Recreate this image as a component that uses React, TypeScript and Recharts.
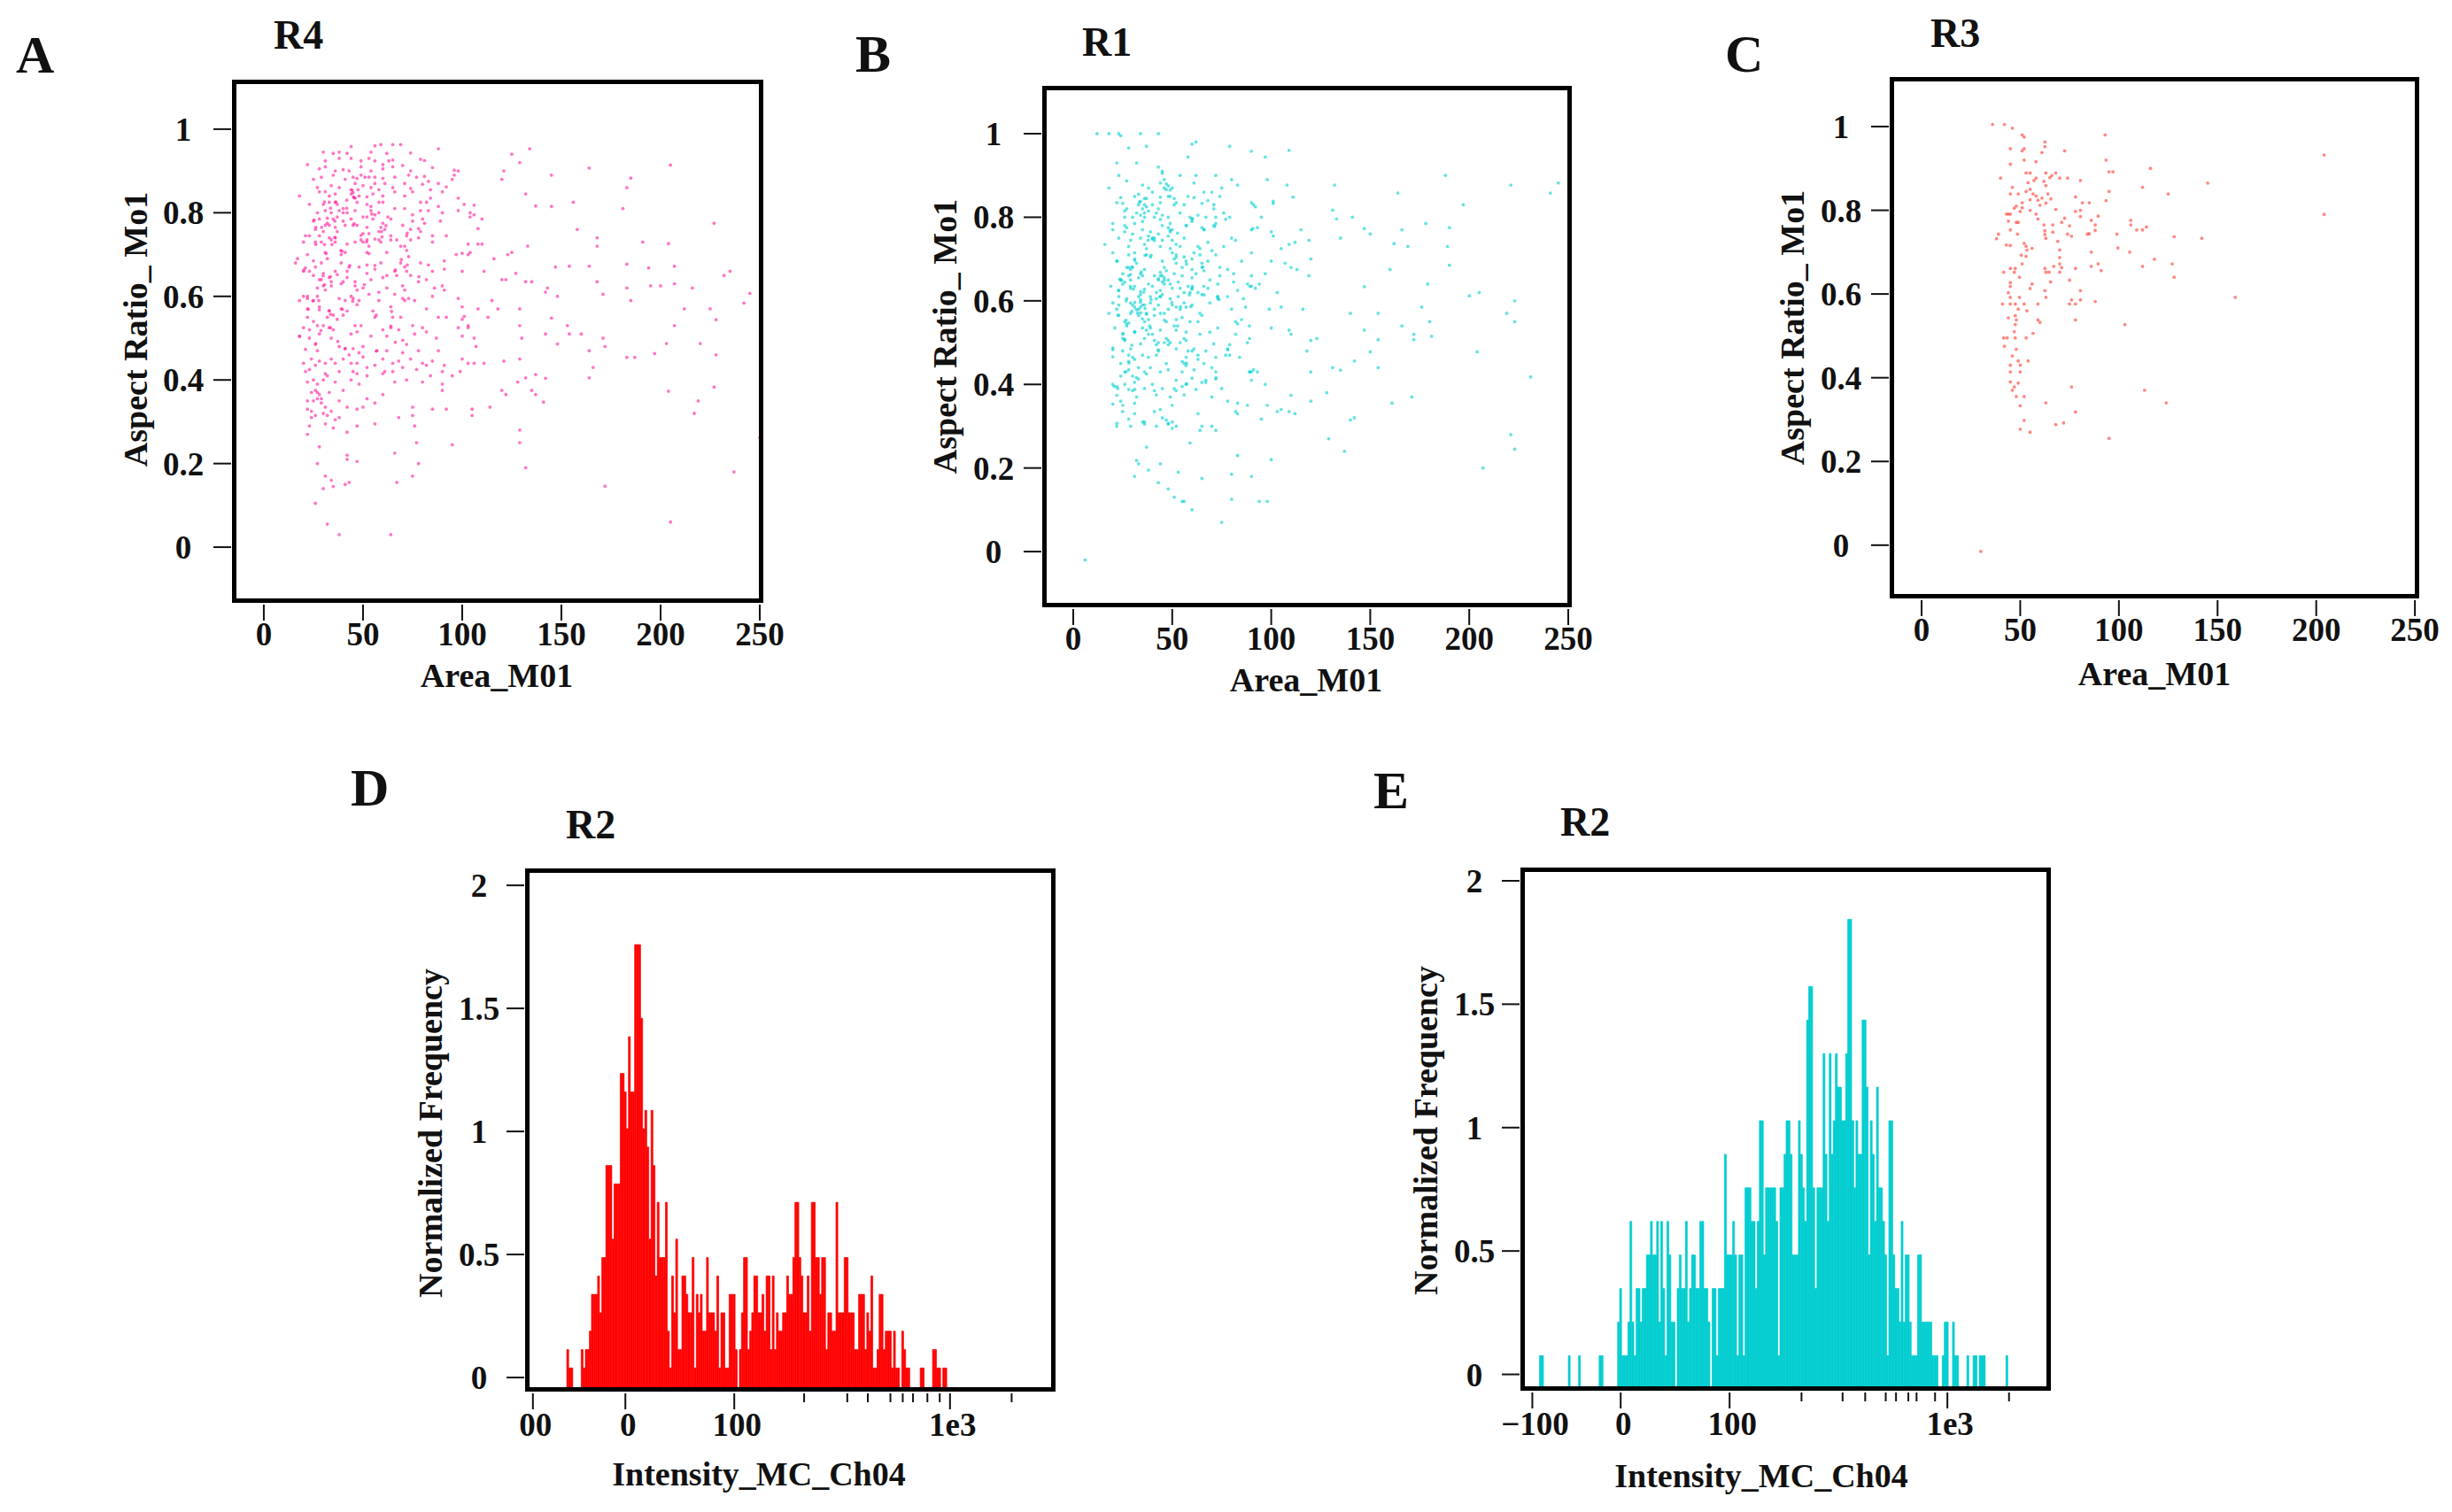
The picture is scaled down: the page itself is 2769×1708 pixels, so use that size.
import { Bar, BarChart, Scatter, ScatterChart, XAxis, YAxis } from "recharts";

type Pt = [number, number];
type Box = { left: number; top: number; right: number; bottom: number };

const FONT = "'Liberation Serif', 'Times New Roman', serif";

// panel A, R4: Area_M01, Aspect Ratio
const pointsA: Pt[] = [
  [22,.915],[30,.945],[35,.942],[38,.945],[44,.958],[42,.942],[54,.945],[56,.96],[59,.963],[65,.963],[69,.963],[62,.942],[74,.943],[88,.953],
  [31,.924],[38,.93],[44,.93],[49,.924],[56,.924],[63,.924],[65,.926],[79,.928],[81,.925],[53,.93],[60,.915],
  [28,.905],[31,.91],[36,.9],[40,.903],[43,.9],[49,.91],[54,.9],[60,.905],[65,.91],[70,.913],[74,.9],[85,.908],[96,.902],[98,.9],
  [25,.88],[29,.885],[35,.89],[41,.88],[45,.885],[47,.882],[49,.89],[51,.885],[53,.885],[56,.885],[60,.882],[66,.885],[73,.89],[77,.885],[81,.887],[83,.875],[95,.88],[96,.89],[120,.88],
  [27,.86],[34,.865],[38,.86],[44,.855],[46,.87],[50,.865],[54,.86],[56,.87],[58,.855],[61,.87],[65,.86],[71,.87],[74,.858],[80,.868],[88,.87],[92,.862],[84,.855],
  [18,.84],[28,.85],[31,.85],[33,.84],[36,.845],[44,.845],[45,.848],[46,.835],[48,.84],[52,.838],[55,.845],[60,.84],[66,.85],[71,.84],[75,.85],[84,.835],[90,.85],[98,.835],
  [23,.82],[30,.82],[33,.825],[36,.825],[37,.82],[40,.81],[47,.825],[52,.82],[54,.815],[58,.825],[60,.825],[71,.81],[79,.825],[82,.825],[88,.815],[101,.82],[106,.818],
  [27,.8],[31,.805],[34,.8],[38,.805],[40,.8],[42,.8],[46,.805],[54,.805],[56,.795],[66,.81],[75,.795],[79,.805],[83,.805],[90,.8],[98,.805],[104,.8],
  [25,.78],[28,.785],[32,.775],[35,.785],[37,.79],[44,.785],[50,.79],[55,.785],[60,.775],[64,.785],[75,.78],[80,.785],[81,.775],[89,.78],[106,.795],[110,.785],[104,.79],
  [26,.76],[31,.77],[33,.77],[36,.765],[40,.78],[41,.77],[45,.77],[47,.77],[50,.75],[52,.765],[59,.765],[61,.76],[64,.745],[70,.77],[74,.76],[79,.755],[108,.762],
  [21,.745],[23,.745],[28,.745],[30,.755],[33,.74],[36,.74],[49,.735],[53,.75],[58,.755],[59,.73],[64,.735],[72,.745],[78,.74],[85,.745],[92,.745],
  [20,.73],[26,.73],[29,.73],[34,.735],[36,.73],[42,.725],[46,.73],[50,.73],[52,.735],[53,.72],[58,.735],[71,.72],[74,.735],[85,.73],[103,.725],[108,.725],[110,.725],
  [22,.70],[31,.705],[32,.69],[39,.70],[41,.705],[52,.705],[62,.705],[72,.71],[73,.695],[97,.70],[100,.703],[103,.70],[104,.705],[123,.70],
  [16,.68],[17,.69],[25,.685],[26,.67],[29,.68],[39,.68],[43,.67],[52,.675],[59,.68],[69,.68],[71,.67],[79,.68],[83,.675],[91,.665],[91,.685],[116,.69],
  [20,.66],[21,.668],[23,.66],[30,.655],[36,.66],[37,.652],[42,.66],[48,.67],[52,.655],[56,.665],[66,.66],[67,.65],[72,.66],[74,.65],[85,.66],[100,.66],[111,.66],
  [29,.64],[33,.645],[34,.635],[40,.635],[42,.645],[46,.635],[54,.64],[60,.645],[78,.635],[82,.64],[122,.64],
  [27,.62],[30,.625],[31,.615],[34,.625],[46,.625],[47,.615],[50,.62],[62,.62],[70,.625],[71,.615],[86,.62],[90,.625],[91,.615],
  [18,.59],[20,.6],[22,.595],[25,.59],[27,.6],[38,.595],[41,.59],[44,.6],[45,.595],[48,.59],[53,.605],[58,.59],[66,.605],[70,.595],[71,.59],[73,.595],[76,.59],[85,.6],[98,.595],[115,.59],
  [22,.57],[28,.575],[33,.565],[39,.57],[42,.565],[47,.58],[55,.565],[64,.575],[82,.57],[100,.575],[108,.57],[118,.57],
  [22,.55],[32,.55],[35,.555],[37,.545],[40,.555],[56,.55],[65,.55],[100,.545],[113,.55],[88,.55],[92,.55],
  [20,.525],[23,.52],[27,.53],[33,.525],[35,.52],[46,.53],[47,.515],[64,.525],[68,.52],[80,.525],[82,.515],[98,.525],[103,.53],
  [18,.505],[23,.5],[28,.51],[34,.5],[54,.505],[62,.505],[70,.495],[76,.51],[87,.5],[100,.505],[106,.5],
  [26,.485],[27,.47],[38,.48],[41,.475],[45,.475],[50,.48],[57,.47],[72,.485],[78,.47],[88,.47],[107,.48],
  [20,.44],[26,.435],[28,.445],[34,.45],[36,.44],[40,.45],[44,.44],[47,.44],[50,.455],[56,.435],[60,.45],[65,.44],[68,.445],[74,.45],[80,.44],[82,.435],[85,.445],[91,.435],[100,.45],[103,.44],[106,.44],[111,.44],[121,.445],
  [21,.42],[23,.425],[31,.415],[32,.41],[38,.42],[45,.42],[47,.415],[52,.41],[60,.415],[65,.42],[77,.425],[84,.41],[90,.42],[95,.41],[99,.42],
  [22,.395],[25,.4],[27,.39],[30,.40],[36,.395],[44,.40],[48,.39],[66,.395],[72,.40],[80,.395],[90,.39],[128,.395],[132,.405],
  [24,.37],[26,.375],[28,.365],[33,.37],[40,.375],[60,.365],[90,.375],[120,.375],[122,.365],[135,.375],[137,.365],
  [25,.35],[27,.355],[29,.345],[38,.35],[52,.355],[56,.345],
  [22,.33],[24,.325],[31,.335],[34,.325],[42,.335],[47,.33],[50,.335],[75,.335],[85,.33],[92,.33],[105,.33],[114,.335],
  [24,.31],[32,.315],[36,.305],[38,.31],[68,.31],[75,.315],[105,.315],[23,.29],[31,.295],[35,.285],[47,.29],[56,.295],[76,.29],[22,.27],[42,.275],[77,.25],[95,.245],[28,.24],[42,.22],[42,.21],[47,.205],[66,.225],[78,.2],[27,.2],[31,.17],[34,.16],[30,.14],[35,.145],[41,.15],[43,.155],[67,.155],[75,.17],[26,.105],[32,.055],[38,.03],[64,.03],
  [125,.94],[134,.953],[129,.92],[121,.90],[145,.89],[164,.907],[185,.883],[205,.914],[183,.86],[132,.845],[137,.816],[145,.815],[156,.825],[181,.81],[158,.76],[168,.74],[168,.72],[133,.72],[191,.73],[204,.726],[227,.775],[125,.705],[147,.67],[154,.672],[164,.672],[183,.677],[194,.668],[207,.672],[235,.66],[232,.65],[127,.655],[120,.64],[132,.635],[135,.635],[168,.635],[195,.625],[200,.625],[207,.63],[216,.62],[183,.62],[143,.62],[142,.61],[148,.60],[171,.605],[185,.59],[245,.607],[242,.584],[129,.57],[212,.57],[225,.57],[228,.544],[207,.53],[145,.548],[153,.53],[142,.51],[154,.51],[160,.51],[171,.50],[172,.48],[220,.487],[203,.487],[197,.463],[228,.46],[183,.454],[187,.454],[129,.53],[130,.50],[164,.47],[148,.486],[129,.45],[166,.43],[164,.405],[142,.404],[137,.413],[204,.373],[227,.383],[219,.35],[217,.32],[141,.347],[129,.28],[129,.25],[132,.19],[237,.18],[250,.262],[172,.146],[205,.06],
  [45.5,.836],[45.2,.838],[44.5,.854],[30.6,.826],[36.3,.826],[41.8,.811],[33.6,.811],[35.8,.78],[32,.787],[25.4,.783],[26.2,.765],[29.1,.765],[49,.746],[59.4,.755],[59.6,.742],[61.6,.769],[72.3,.751],[78,.762],[51.8,.73],[56,.737],[38.8,.71],[39.4,.708],[53,.702],[31.4,.702],[26.2,.724],[30.6,.724],[34.4,.724],[35.8,.741],[72.3,.675],[69.3,.688],[56,.674],[43.3,.674],[33.6,.647],[29.9,.649],[20.2,.663],[78.2,.647],[66.3,.663],[30.6,.628],[50.7,.628],[44.8,.588],[27.7,.59],[24.7,.589],[22,.6],[22.4,.569],[28,.568],[32.9,.566],[39.6,.569],[56.7,.555],[64.4,.564],[33.6,.557],[28.8,.518],[33.6,.525],[64.1,.529],[103,.525],[101,.552],[37.3,.492],[66.3,.49],[18,.504],[26.2,.487],[41,.475],[56.7,.469],[21,.473],[54.4,.797],[45.5,.774],[52,.79],[41.8,.83],[47.5,.855],[58,.8],[62.5,.79],[67,.735],[69,.72],[37,.755],[25,.65],[28,.64],[39,.63],[58,.61],[62,.65],[69,.55],[75,.53],[25,.54],[30,.53],[44,.51],[49,.53],[60,.52],[43,.46],[48,.465],[62,.47],[70,.465],[24,.45],[31,.44],[52,.43],[61,.42],[70,.43],[22,.35],[27,.37],[29,.355],[26,.315],[30,.32],
];

// panel B, R1: Area_M01, Aspect Ratio
const pointsB: Pt[] = [
  [12,1],[18,1],[23,1],[24,.995],[34,1],[43,1],[28,.966],[37,.97],[62,.98],[60,.975],[79,.97],[58,.944],[109,.96],[90,.958],[97,.944],[22,.93],[32,.93],[23,.90],[43,.92],[45,.91],[72,.90],[62,.90],[54,.90],[98,.89],[108,.877],[132,.877],[188,.90],[221,.877],[245,.882],[241,.858],[164,.858],[197,.83],[101,.833],[91,.83],[18,.87],[27,.887],[35,.877],[44,.882],[47,.866],[48,.85],[80,.89],[83,.877],[61,.882],[37,.845],[33,.855],[40,.86],[50,.87],[66,.86],[75,.87],
  [24,.847],[31,.85],[36,.845],[44,.848],[51,.845],[61,.847],[74,.85],[111,.848],[22,.835],[25,.833],[33,.83],[34,.838],[36,.83],[44,.835],[51,.83],[52,.835],[65,.833],[71,.83],[90,.835],[101,.838],[27,.82],[26,.815],[35,.82],[37,.825],[38,.815],[43,.82],[71,.82],[92,.825],[26,.80],[34,.805],[36,.80],[41,.80],[44,.795],[45,.805],[48,.80],[59,.80],[60,.795],[63,.805],[67,.80],[72,.80],[77,.795],[79,.80],[95,.80],
  [20,.785],[26,.78],[31,.785],[35,.79],[45,.78],[49,.785],[57,.78],[60,.79],[71,.78],[72,.785],[20,.77],[26,.765],[27,.775],[35,.77],[39,.765],[48,.775],[49,.765],[50,.77],[65,.775],[66,.77],[90,.77],[93,.775],[100,.765],[115,.77],
  [23,.75],[29,.745],[34,.75],[38,.755],[40,.75],[41,.75],[45,.745],[48,.755],[50,.745],[56,.75],[80,.75],[82,.745],[101,.755],[119,.745],[16,.735],[28,.73],[36,.735],[37,.725],[44,.73],[49,.725],[52,.735],[63,.73],[64,.725],[76,.73],[109,.735],[105,.725],[112,.74],
  [20,.715],[28,.71],[31,.715],[37,.71],[39,.705],[50,.715],[52,.71],[56,.705],[61,.715],[64,.71],[90,.715],[22,.695],[31,.70],[32,.69],[45,.695],[51,.70],[52,.69],[57,.695],[60,.70],[65,.69],[68,.695],[85,.695],[100,.695],[107,.69],[120,.70],
  [27,.68],[29,.675],[30,.68],[36,.675],[46,.68],[47,.672],[55,.68],[60,.675],[65,.68],[66,.672],[78,.675],[110,.68],[113,.675],[25,.665],[28,.66],[34,.665],[35,.66],[44,.668],[45,.66],[51,.665],[55,.66],[62,.665],[74,.66],[81,.665],[90,.66],[97,.665],[119,.66],
  [24,.65],[26,.645],[29,.65],[33,.655],[43,.65],[45,.645],[46,.655],[48,.65],[53,.645],[60,.655],[69,.65],[81,.645],[19,.635],[25,.64],[29,.63],[31,.635],[40,.635],[46,.64],[54,.63],[58,.635],[60,.63],[66,.635],[73,.64],[90,.635],[88,.64],[92,.63],[94,.64],
  [23,.625],[34,.622],[36,.628],[42,.62],[44,.625],[59,.62],[60,.628],[83,.625],[103,.62],[23,.61],[27,.605],[33,.61],[34,.615],[39,.61],[42,.605],[44,.61],[45,.615],[49,.605],[53,.61],[65,.615],[73,.61],[73,.605],[78,.61],[86,.605],
  [20,.595],[23,.59],[29,.595],[30,.59],[34,.597],[36,.59],[39,.595],[50,.59],[56,.595],[60,.59],[69,.595],[22,.58],[31,.585],[33,.58],[34,.585],[48,.58],[52,.585],[54,.58],[57,.585],[80,.58],[87,.585],[99,.58],[105,.585],[116,.58],
  [18,.57],[23,.565],[29,.57],[33,.565],[37,.57],[41,.565],[44,.57],[65,.565],[64,.57],[26,.55],[27,.545],[36,.55],[38,.555],[47,.55],[52,.555],[63,.55],[82,.55],[83,.545],[85,.555],[21,.535],[27,.54],[35,.535],[37,.53],[39,.535],[51,.54],[52,.53],[73,.535],[89,.54],[100,.535],[109,.53],
  [25,.52],[31,.525],[38,.52],[57,.525],[64,.52],[69,.525],[82,.52],[110,.52],[25,.51],[26,.505],[36,.51],[41,.505],[47,.51],[48,.505],[56,.51],[57,.505],[89,.51],[120,.505],[123,.51],[34,.497],[42,.495],[43,.50],[48,.495],[49,.50],[71,.497],[79,.495],[88,.50],
  [20,.483],[25,.48],[29,.485],[43,.48],[52,.485],[60,.48],[61,.485],[67,.48],[78,.485],[118,.48],[20,.466],[28,.47],[30,.465],[35,.47],[38,.465],[42,.47],[57,.465],[63,.47],[72,.465],[79,.47],[84,.465],[77,.47],[24,.45],[28,.455],[47,.45],[55,.455],[56,.45],[57,.445],
  [26,.43],[28,.435],[36,.43],[37,.425],[48,.435],[55,.43],[61,.435],[72,.43],[89,.43],[90,.43],[91,.435],[93,.43],[120,.43],[33,.413],[60,.415],[67,.41],[72,.413],[90,.41],[20,.40],[22,.395],[26,.40],[31,.405],[40,.40],[55,.395],[57,.40],[65,.405],[97,.40],[28,.388],[30,.385],[36,.39],[41,.385],[45,.39],[52,.385],[51,.39],[62,.388],[22,.374],[32,.37],[42,.375],[49,.37],[56,.375],[70,.37],[110,.374],
  [20,.353],[25,.35],[31,.355],[50,.35],[83,.355],[88,.35],[25,.335],[31,.33],[41,.335],[63,.33],[82,.335],[83,.33],[103,.335],[112,.33],[28,.317],[45,.32],[47,.315],[95,.317],[22,.307],[35,.31],[36,.305],[48,.307],
  [131,.817],[133,.796],[141,.80],[147,.773],[150,.76],[166,.77],[178,.785],[190,.775],[135,.75],[162,.737],[169,.73],[189,.73],[190,.685],[160,.675],[147,.634],[179,.64],[200,.612],[205,.62],[223,.60],[176,.585],[219,.57],[223,.55],[180,.55],[166,.54],[154,.57],[140,.57],[147,.53],[172,.52],[172,.507],[154,.507],[181,.515],[204,.478],[150,.478],[142,.456],[154,.44],[231,.418],[135,.434],[131,.44],[171,.37],[161,.355],[142,.32],[140,.315],[129,.27],[221,.28],[223,.245],[137,.24],[207,.20],[100,.22],[83,.23],
  [22,.30],[29,.30],[36,.31],[48,.305],[50,.295],[64,.29],[70,.30],[59,.26],[37,.25],[32,.218],[44,.21],[33,.21],[31,.18],[38,.195],[53,.19],[65,.175],[80,.185],[90,.18],[43,.165],[48,.15],[51,.13],[55,.12],[56,.12],[60,.10],[80,.125],[94,.12],[98,.12],[75,.07],[6,-.02],
  [40,.748],[37.8,.745],[41,.744],[34,.603],[31.9,.579],[34,.571],[28.9,.663],[34.4,.669],[44.1,.66],[46,.649],[43,.653],[24.4,.649],[23.5,.652],[28.9,.635],[30.4,.628],[22.9,.625],[31.1,.596],[72.9,.61],[73.6,.603],[59.4,.586],[38.6,.54],[52.7,.54],[25.9,.508],[28.1,.451],[78,.483],[89.3,.635],[89.3,.43],[72.1,.416],[66.9,.405],[49,.769],[52.7,.762],[33.4,.836],[36,.81],[66.1,.771],[71.4,.778],[90.7,.773],[57.2,.78],[60.2,.797],[36.3,.709],[39.3,.709],[52,.704],[57.2,.688],[65.4,.681],[31.1,.697],[22.2,.695],[29.6,.681],[28,.68],[60.2,.635],[58.7,.614],[66.1,.614],[35.6,.621],[43.8,.61],[26.7,.6],[39.3,.603],[49.8,.596],[54.2,.586],[36.3,.582],[29.6,.575],[32.5,.571],[37,.568],[22.6,.566],[26.7,.554],[34.9,.557],[28.1,.547],[46,.554],[25.2,.522],[31.1,.526],[29.6,.494],[43,.483],[57.2,.451],[26.7,.43],[31.9,.416],[57.2,.402],[31.1,.388],[20,.487],[20.7,.395],[22.5,.39],[24,.36],
  [45,.905],[46,.89],[47,.88],[48,.875],[49,.865],[46,.87],[49,.85],[38,.87],[40,.83],[42,.81],[30,.80],[32,.81],[54,.81],[56,.83],[58,.85],[68,.84],[70,.86],[76,.81],[30,.76],[43,.76],[54,.73],[68,.74],[70,.72],[72,.71],[74,.68],[38,.64],[41,.66],[49,.64],[50,.63],[56,.62],[63,.62],[68,.63],[35,.59],[41,.58],[43,.59],[46,.57],[55,.56],[59,.55],[40,.52],[44,.53],[46,.50],[54,.50],[58,.48],[63,.46],[66,.45],[70,.44],[39,.44],[44,.43],[31,.46],[33,.44],[24,.42],[30,.42],[52,.41],[75,.39],[78,.36],[98,.35],[105,.34],[109,.335],[120,.36],[128,.38],[72,.29],[65,.3],[42,.30],[44,.34],[50,.31],[52,.30],
];

// panel C, R3: Area_M01, Aspect Ratio
const pointsC: Pt[] = [
  [36,1.005],[42,1.005],[46,.996],[51,.98],[52,.975],[93,.98],[62.5,.963],[62.5,.952],[45,.947],[51,.942],[52,.947],[61,.938],[72.5,.942],[52,.92],[58,.916],[93.5,.92],[45,.91],[116,.90],[95,.892],[97,.892],[53,.889],[55,.889],[68,.889],[63,.889],[66,.883],[65,.878],[40,.877],[57,.871],[58,.877],[62,.869],[70,.877],[74,.877],[80.5,.871],[54,.866],[63,.859],[46,.855],[112,.855],[45,.839],[49,.839],[53,.845],[55,.85],[56.5,.839],[58,.834],[64,.839],[95,.845],[125,.839],[78,.832],[55,.825],[59,.824],[61,.829],[65.5,.827],[63,.817],[81.5,.818],[85,.818],[93.5,.823],[51,.818],[48,.81],[47,.805],[51,.806],[60,.812],[50,.797],[55,.80],[68,.802],[78,.797],[80.5,.80],[58,.791],[43,.791],[44,.791],[45,.791],[80.5,.785],[89.5,.786],[59,.779],[72.5,.781],[44,.774],[48,.771],[49,.771],[71,.771],[86,.776],[62,.765],[66.5,.765],[75,.763],[88,.765],[106,.776],[106,.765],[114,.76],[45,.753],[62.5,.751],[66.5,.748],[88,.752],[109,.753],[112,.753],[39,.743],[48.6,.743],[62.5,.742],[74,.743],[76,.738],[84,.743],[85,.744],[99,.743],[128,.737],[38,.732],[63,.733],[69,.726],[43,.717],[45,.716],[52,.721],[53,.714],[56,.709],[53.4,.705],[70,.705],[99.5,.71],[105.5,.70],[86,.70],[50.5,.693],[53,.69],[70,.687],[118,.683],[51,.672],[67,.666],[70,.672],[71,.663],[78,.661],[86,.666],[89.5,.672],[112,.666],[127,.672],[91,.656],[45,.661],[47.5,.661],[41.6,.652],[47,.652],[62.5,.661],[63,.652],[64.6,.652],[70,.652],[49.6,.64],[128,.64],[75,.633],[65.4,.629],[45,.627],[56,.624],[45,.618],[55,.613],[62.5,.608],[80.5,.608],[44,.603],[45,.592],[49.6,.592],[63,.592],[76,.586],[80.5,.586],[88,.582],[41,.576],[45,.576],[47.5,.576],[52,.576],[59,.576],[75,.576],[78,.576],[49,.564],[53.4,.56],[47.5,.548],[44,.543],[48,.538],[59,.538],[60,.532],[78,.538],[47.5,.527],[103,.527],[47,.51],[56.5,.506],[41.6,.495],[43.4,.495],[47.5,.495],[53,.495],
  [42,.475],[48,.468],[46,.452],[49,.44],[45,.43],[50,.43],[54,.44],[45,.414],[50,.414],[45,.39],[47,.378],[46,.37],[49,.387],[48,.355],[52,.355],[50,.333],[63,.34],[76,.378],[113,.37],[124,.34],[78,.318],[52,.298],[50,.277],[55,.27],[68,.288],[72,.292],[95,.255],[30,-.015],[204,.932],[204,.79],[159,.592],[145,.865],[142,.733],
];

// panel D, R2: bin counts per histogram channel (256 channels)
const countsD = [
  0,0,0,0,0,0,0,0,0,0,0,0,0,0,0,0,0,0,0,
  2,1,1,0,0,0,0,2,1,2,2,3,5,5,5,6,4,7,7,12,12,12,8,11,11,11,17,17,16,14,19,16,16,24,24,24,20,14,15,13,8,15,12,6,10,7,7,7,10,3,1,6,4,8,2,2,6,6,5,4,4,7,1,5,4,5,3,3,7,4,4,4,3,6,1,4,4,1,1,5,5,5,2,0,2,4,7,7,2,3,4,6,6,4,4,
  5,3,6,6,2,6,2,4,3,3,4,4,6,5,5,7,10,10,7,6,4,4,6,3,10,10,7,7,5,7,7,2,4,4,3,3,10,4,4,4,7,7,4,4,4,2,2,5,5,5,2,4,3,6,1,1,2,5,5,2,3,3,3,1,3,1,1,0,3,2,1,1,0,0,0,0,0,1,1,0,0,0,0,2,2,1,1,0,1,1,0,
  0,0,0,0,0,0,0,0,0,0,0,0,0,0,0,0,0,0,0,0,0,0,0,0,0,0,0,0,0,0,0,0,0,0,0,0,0,0,0,0,0,0,0,0,0,0,0,0,0,0,0,
];

// panel E, R2: bin counts per histogram channel
const countsE = [
  0,0,0,0,0,0,0,0,1,1,0,0,0,0,0,0,0,0,0,0,0,0,1,0,0,0,0,1,0,0,0,0,0,0,0,0,0,1,1,0,0,0,0,0,0,0,
  2,3,1,1,1,2,5,2,1,3,3,2,3,3,4,4,5,4,4,5,2,5,3,1,5,4,2,2,0,3,4,3,3,5,2,3,4,4,3,3,5,5,3,3,2,0,3,3,1,3,3,3,7,4,4,4,5,4,1,4,4,
  1,6,6,6,5,5,3,5,8,8,4,6,6,6,6,6,5,1,6,6,7,8,8,7,4,4,4,8,7,6,5,11,12,12,6,3,6,6,6,10,7,5,10,7,8,10,9,9,8,8,10,14,14,8,6,8,7,7,11,11,9,4,8,7,5,9,6,6,5,4,1,8,8,4,3,3,2,5,2,4,4,2,1,1,1,4,4,2,2,2,2,2,1,1,1,0,0,1,2,2,0,0,2,1,1,0,0,0,0,1,0,0,1,1,0,1,1,
  1,0,0,0,0,0,0,0,0,0,0,1,0,0,0,0,0,0,0,0,0,0,0,0,0,0,0,0,0,0,0,0,
];

const areaTicks = [0, 50, 100, 150, 200, 250];
const ratioTicks = [0, 0.2, 0.4, 0.6, 0.8, 1];
const ratioLabels = ["0", "0.2", "0.4", "0.6", "0.8", "1"];
const freqTicks = [0, 0.5, 1, 1.5, 2];
const freqLabels = ["0", "0.5", "1", "1.5", "2"];

const ticksD = [2, 47, 100, 134, 155, 165, 176, 182, 187, 194, 200, 205, 235];
const ticksE = [4, 47, 100, 135, 155, 166, 176, 181, 187, 191, 200, 206, 236];
const labelsD: Record<number, string> = { 2: "00", 47: "0", 100: "100", 205: "1e3" };
const labelsE: Record<number, string> = { 4: "\u2212100", 47: "0", 100: "100", 206: "1e3" };

const captions: [string, number, number, number][] = [
  ["A", 18, 82, 60], ["R4", 309, 55, 46],
  ["B", 966, 81, 60], ["R1", 1222, 63, 46],
  ["C", 1948, 81, 60], ["R3", 2180, 53, 46],
  ["D", 396, 910, 60], ["R2", 639, 947, 46],
  ["E", 1551, 913, 60], ["R2", 1762, 944, 46],
];

const Frame = ({ box }: { box: Box }) => (
  <div
    style={{
      position: "absolute",
      boxSizing: "border-box",
      left: box.left - 3,
      top: box.top - 3,
      width: box.right - box.left + 5,
      height: box.bottom - box.top + 5,
      border: "5px solid #000",
      pointerEvents: "none",
    }}
  />
);

const yTick = (labels: string[], values: number[], labelDx: number) => (p: any) => {
  const i = values.indexOf(p.payload.value);
  return (
    <g>
      <line x1={p.x - 24} x2={p.x - 4} y1={p.y} y2={p.y} stroke="#111" strokeWidth={2} />
      <text x={p.x - labelDx} y={p.y + 13} textAnchor="middle" fontFamily={FONT} fontWeight="bold" fontSize={37} fill="#111">
        {labels[i]}
      </text>
    </g>
  );
};

const ScatterPanel = ({ box, points, color, xDomain, yDomain, xTitle, yTitle }: any) => {
  const pad = { left: 120, top: 20, right: 45, bottom: 100 };
  const data = points.map(([x, y]: Pt) => ({ x, y }));
  return (
    <>
      <div style={{ position: "absolute", left: box.left - pad.left, top: box.top - pad.top }}>
        <ScatterChart
          width={box.right - box.left + pad.left + pad.right}
          height={box.bottom - box.top + pad.top + pad.bottom}
          margin={{ top: pad.top, right: pad.right, bottom: 0, left: 0 }}
        >
          <XAxis
            type="number"
            dataKey="x"
            domain={xDomain}
            ticks={areaTicks}
            allowDataOverflow
            interval={0}
            height={pad.bottom}
            axisLine={false}
            tickLine={false}
            tickSize={0}
            tickMargin={0}
            tick={(p: any) => (
              <g>
                <line x1={p.x} x2={p.x} y1={p.y + 4} y2={p.y + 22} stroke="#111" strokeWidth={2} />
                <text x={p.x} y={p.y + 50} textAnchor="middle" fontFamily={FONT} fontWeight="bold" fontSize={37} fill="#111">
                  {p.payload.value}
                </text>
              </g>
            )}
          />
          <YAxis
            type="number"
            dataKey="y"
            domain={yDomain}
            ticks={ratioTicks}
            allowDataOverflow
            interval={0}
            width={pad.left}
            axisLine={false}
            tickLine={false}
            tickSize={0}
            tickMargin={0}
            tick={yTick(ratioLabels, ratioTicks, 58)}
          />
          <Scatter
            data={data}
            isAnimationActive={false}
            shape={(p: any) => <circle cx={p.cx} cy={p.cy} r={1.9} fill={color} fillOpacity={0.6} />}
          />
        </ScatterChart>
      </div>
      <Frame box={box} />
      <svg style={{ position: "absolute", left: 0, top: 0, pointerEvents: "none" }} width={2769} height={1708}>
        <text x={xTitle[0]} y={xTitle[1]} textAnchor="middle" fontFamily={FONT} fontWeight="bold" fontSize={38} fill="#111">
          Area_M01
        </text>
        <text
          transform={`translate(${yTitle[0]} ${yTitle[1]}) rotate(-90)`}
          textAnchor="middle"
          fontFamily={FONT}
          fontWeight="bold"
          fontSize={38}
          fill="#111"
        >
          Aspect Ratio_ Mo1
        </text>
      </svg>
    </>
  );
};

const HistPanel = ({ box, counts, color, unit, base, yDomain, ticks, labels, xTitle, yTitle }: any) => {
  const pad = { left: 120, top: 20, right: 45, bottom: 100 };
  const data = counts.map((c: number, bin: number) => ({
    bin,
    range: c > 0 ? [yDomain[0], c * unit + base] : null,
  }));
  return (
    <>
      <div style={{ position: "absolute", left: box.left - pad.left, top: box.top - pad.top }}>
        <BarChart
          width={box.right - box.left + pad.left + pad.right}
          height={box.bottom - box.top + pad.top + pad.bottom}
          margin={{ top: pad.top, right: pad.right, bottom: 0, left: 0 }}
          data={data}
          barCategoryGap={0}
          barGap={0}
        >
          <XAxis
            dataKey="bin"
            ticks={ticks}
            interval={0}
            height={pad.bottom}
            axisLine={false}
            tickLine={false}
            tickSize={0}
            tickMargin={0}
            tick={(p: any) => {
              const label = labels[p.payload.value];
              return (
                <g>
                  <line x1={p.x} x2={p.x} y1={p.y + 4} y2={p.y + (label ? 22 : 14)} stroke="#111" strokeWidth={2} />
                  {label && (
                    <text x={p.x + 3} y={p.y + 52} textAnchor="middle" fontFamily={FONT} fontWeight="bold" fontSize={37} fill="#111">
                      {label}
                    </text>
                  )}
                </g>
              );
            }}
          />
          <YAxis
            type="number"
            domain={yDomain}
            ticks={freqTicks}
            allowDataOverflow
            interval={0}
            width={pad.left}
            axisLine={false}
            tickLine={false}
            tickSize={0}
            tickMargin={0}
            tick={yTick(freqLabels, freqTicks, 55)}
          />
          <Bar dataKey="range" fill={color} stroke={color} strokeWidth={0.7} barSize={2.5} isAnimationActive={false} />
        </BarChart>
      </div>
      <Frame box={box} />
      <svg style={{ position: "absolute", left: 0, top: 0, pointerEvents: "none" }} width={2769} height={1708}>
        <text x={xTitle[0]} y={xTitle[1]} textAnchor="middle" fontFamily={FONT} fontWeight="bold" fontSize={38} fill="#111">
          Intensity_MC_Ch04
        </text>
        <text
          transform={`translate(${yTitle[0]} ${yTitle[1]}) rotate(-90)`}
          textAnchor="middle"
          fontFamily={FONT}
          fontWeight="bold"
          fontSize={38}
          fill="#111"
        >
          Normalized Frequency
        </text>
      </svg>
    </>
  );
};

export default function App() {
  return (
    <div style={{ position: "absolute", left: 0, top: 0, width: 2769, height: 1708, background: "#fff", overflow: "hidden" }}>
      <ScatterPanel
        box={{ left: 265, top: 93, right: 860, bottom: 679 }}
        points={pointsA}
        color="#ff1a9c"
        xDomain={[-14.7, 250.9]}
        yDomain={[-0.129, 1.112]}
        xTitle={[561, 776]}
        yTitle={[166, 372]}
      />
      <ScatterPanel
        box={{ left: 1180, top: 100, right: 1773, bottom: 684 }}
        points={pointsB}
        color="#00d0d0"
        xDomain={[-14.3, 250.9]}
        yDomain={[-0.129, 1.108]}
        xTitle={[1475, 781]}
        yTitle={[1080, 380]}
      />
      <ScatterPanel
        box={{ left: 2137, top: 90, right: 2730, bottom: 674 }}
        points={pointsC}
        color="#ff3a30"
        xDomain={[-14.8, 251.3]}
        yDomain={[-0.123, 1.112]}
        xTitle={[2433, 774]}
        yTitle={[2037, 370]}
      />
      <HistPanel
        box={{ left: 596, top: 984, right: 1190, bottom: 1570 }}
        counts={countsD}
        color="#ff0000"
        unit={0.0748}
        base={-0.036}
        yDomain={[-0.05, 2.058]}
        ticks={ticksD}
        labels={labelsD}
        xTitle={[857, 1678]}
        yTitle={[499, 1280]}
      />
      <HistPanel
        box={{ left: 1720, top: 983, right: 2314, bottom: 1569 }}
        counts={countsE}
        color="#00cdd0"
        unit={0.136}
        base={-0.06}
        yDomain={[-0.059, 2.043]}
        ticks={ticksE}
        labels={labelsE}
        xTitle={[1989, 1680]}
        yTitle={[1623, 1277]}
      />
      <svg style={{ position: "absolute", left: 0, top: 0, pointerEvents: "none" }} width={2769} height={1708}>
        {captions.map(([text, x, y, size]) => (
          <text key={`${text}${x}`} x={x} y={y} fontFamily={FONT} fontWeight="bold" fontSize={size} fill="#111">
            {text}
          </text>
        ))}
      </svg>
    </div>
  );
}
